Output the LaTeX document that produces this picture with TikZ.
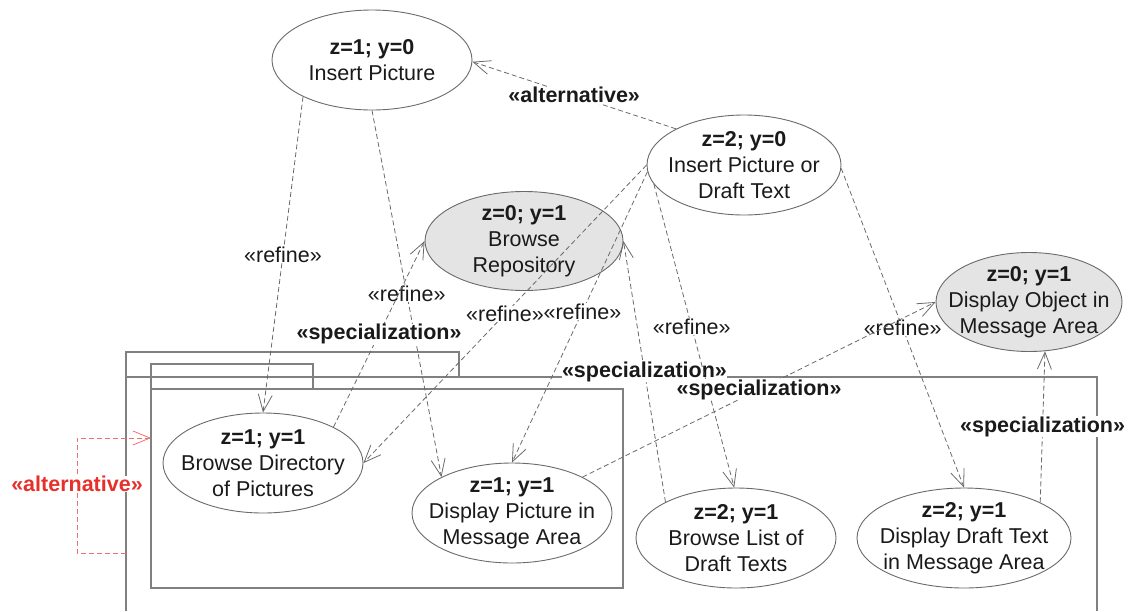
\documentclass[tikz,border=0pt]{standalone}
\usepackage{fontspec}
\setmainfont{Liberation Sans}
\usetikzlibrary{shapes.geometric,arrows.meta}
\definecolor{linegray}{HTML}{6A6A6A}
\definecolor{framegray}{HTML}{808080}
\definecolor{fillgray}{HTML}{E4E4E4}
\definecolor{txt}{HTML}{1A1A1A}
\definecolor{altred}{HTML}{E8302A}
\definecolor{altline}{HTML}{F07070}
\begin{document}
\begin{tikzpicture}[x=1pt,y=-1pt,
  uc/.style={ellipse, draw=linegray, fill=white, line width=0.9pt, inner sep=0pt},
  ucg/.style={uc, fill=fillgray},
  uctext/.style={align=center, font=\fontsize{21.5}{26}\selectfont, text=txt, inner sep=0pt},
  dep/.style={draw=linegray, dash pattern=on 5pt off 3pt, line width=0.8pt,
    -{Straight Barb[length=17pt,width=14pt,line width=0.8pt]}},
  lbl/.style={fill=white, inner sep=0.5pt, font=\fontsize{21.5}{26}\selectfont, text=txt},
  blbl/.style={fill=white, inner sep=0.5pt, font=\fontsize{21.5}{26}\selectfont\bfseries, text=txt},
  frame/.style={draw=framegray, line width=1.1pt}
]
\useasboundingbox (0,0) rectangle (1138,611);

% package frames
\draw[frame] (126,352) rectangle (459,377);
\draw[frame] (126,611) -- (126,377) -- (1097,377) -- (1097,611);
\draw[frame] (151,364) rectangle (313,389);
\draw[frame] (151,389) rectangle (623,588);
\coordinate (ofl) at (126,553);
\coordinate (ifl) at (151,438);

% use cases
\node[uc,  minimum width=200pt, minimum height=100pt] (ip)   at (372,60)  {};
\node[uc,  minimum width=194pt, minimum height=100pt] (ipdt) at (744,165) {};
\node[ucg, minimum width=198pt, minimum height=99pt]  (br)   at (524,241) {};
\node[ucg, minimum width=186pt, minimum height=99pt]  (do)   at (1029,302) {};
\node[uc,  minimum width=200pt, minimum height=100pt] (bd)   at (263,463) {};
\node[uc,  minimum width=200pt, minimum height=100pt] (dp)   at (512,513) {};
\node[uc,  minimum width=200pt, minimum height=100pt] (bl)   at (736,538) {};
\node[uc,  minimum width=214pt, minimum height=100pt] (dd)   at (964,538) {};

\node[uctext] (ipt)   at (ip.center)   {\textbf{z=1; y=0}\\Insert Picture};
\node[uctext] (ipdtt) at (ipdt.center) {\textbf{z=2; y=0}\\Insert Picture or\\Draft Text};
\node[uctext] (brt)   at (br.center)   {\textbf{z=0; y=1}\\Browse\\Repository};
\node[uctext] (dot)   at (do.center)   {\textbf{z=0; y=1}\\Display Object in\\Message Area};
\node[uctext] (bdt)   at (bd.center)   {\textbf{z=1; y=1}\\Browse Directory\\of Pictures};
\node[uctext] (dpt)   at (dp.center)   {\textbf{z=1; y=1}\\Display Picture in\\Message Area};
\node[uctext] (blt)   at (bl.center)   {\textbf{z=2; y=1}\\Browse List of\\Draft Texts};
\node[uctext] (ddt)   at (dd.center)   {\textbf{z=2; y=1}\\Display Draft Text\\in Message Area};

% dependencies
\draw[dep] (ip.208) -- (bd.90) node[lbl, midway] (l1) {«refine»};
\draw[dep] (ip.270) -- (dp.153) node[lbl, midway] (l2) {«refine»};
\draw[dep] (ipdt.152) -- (ip.-1) node[blbl, midway] (l3) {«alternative»};
\draw[dep] (bd.27) -- (br.180) node[blbl, midway] (l4) {«specialization»};
\draw[dep] (ipdt.180) -- (bd.0) node[lbl, midway] (l5) {«refine»};
\draw[dep] (ipdt.184) -- (dp.90) node[lbl, pos=0.48] (l6) {«refine»};
\draw[dep] (bl.153) -- (br.0) node[blbl, midway] (l7) {«specialization»};
\draw[dep] (ipdt.192) -- (bl.92) node[lbl, pos=0.47] (l8) {«refine»};
\draw[dep] (ipdt.-2) -- (dd.90) node[lbl, midway] (l9) {«refine»};
\draw[dep] (dp.27) -- (do.180) node[blbl, midway] (l10) {«specialization»};
\draw[dep] (dd.25) -- (do.288) node[blbl, midway] (l11) {«specialization»};

% red alternative between packages
\draw[draw=altline, dash pattern=on 5pt off 3pt, line width=0.8pt,
  -{Straight Barb[length=17pt,width=14pt,line width=0.8pt]}]
  (ofl) -- ++(-49,0) |- (ifl);
\node[blbl, text=altred] (lalt) at (77,484) {«alternative»};
\end{tikzpicture}
\end{document}
